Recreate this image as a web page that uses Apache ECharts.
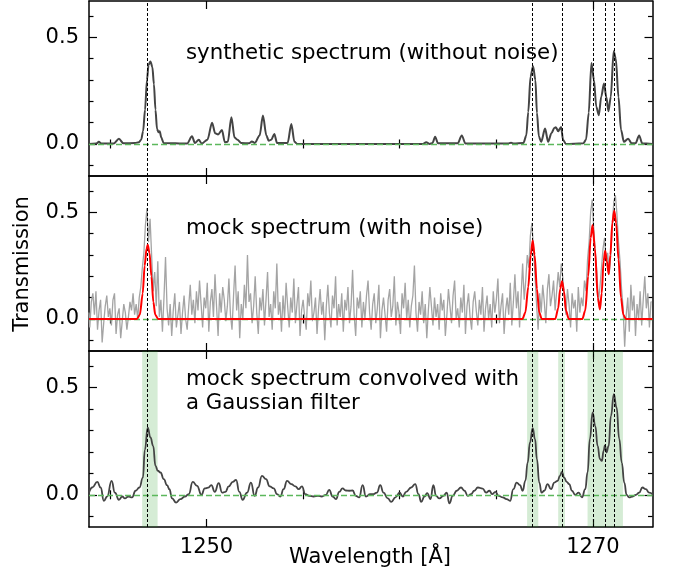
<!DOCTYPE html>
<html>
<head>
<meta charset="utf-8">
<title>Transmission spectra</title>
<script src="https://cdn.jsdelivr.net/npm/echarts@6.0.0/dist/echarts.min.js"></script>
<style>
  html, body { margin: 0; padding: 0; background: #fff; }
  #chart { width: 678px; height: 576px; }
</style>
</head>
<body>
<div id="chart"></div>
<script>
// wavelength range and ticks
const waveMin = 1243.92;
const waveMax = 1273.08;
const xMajorTicks = [1250, 1270];
const xMinorTicks = [1245, 1255, 1260, 1265];
const yMin = -0.15;
const yMax = 0.67;
const yMajorTicks = [0, 0.5];
const yMinorTicks = [-0.1, 0.1, 0.2, 0.3, 0.4, 0.6];

// absorption line centres and filter windows
const lineCenters = [1246.96, 1266.88, 1268.40, 1270.00, 1270.62, 1271.10];
const filterBands = [[1246.67, 1247.47], [1266.59, 1267.17], [1268.20, 1268.55], [1269.72, 1271.55]];

// top panel: synthetic spectrum (without noise)
const synthWave = [
  1243.92, 1244.30, 1244.43, 1244.56, 1245.20, 1245.47, 1245.70, 1246.30, 1246.50, 1246.62,
  1246.72, 1246.82, 1246.92, 1247.00, 1247.10, 1247.20, 1247.28, 1247.36, 1247.44, 1247.52,
  1247.58, 1247.66, 1247.78, 1249.00, 1249.25, 1249.40, 1249.60, 1249.75, 1250.05, 1250.29,
  1250.45, 1250.60, 1250.80, 1250.95, 1251.10, 1251.29, 1251.45, 1251.60, 1251.80, 1252.20,
  1252.35, 1252.50, 1252.75, 1252.92, 1253.10, 1253.22, 1253.35, 1253.51, 1253.65, 1254.20,
  1254.39, 1254.55, 1254.70, 1261.20, 1261.37, 1261.55, 1261.70, 1261.83, 1261.98, 1263.00,
  1263.21, 1263.40, 1265.60, 1265.76, 1265.90, 1266.40, 1266.55, 1266.65, 1266.77, 1266.90,
  1267.02, 1267.10, 1267.20, 1267.32, 1267.52, 1267.68, 1267.85, 1268.00, 1268.08, 1268.20,
  1268.35, 1268.45, 1268.60, 1269.50, 1269.64, 1269.78, 1269.92, 1270.05, 1270.17, 1270.30,
  1270.43, 1270.57, 1270.69, 1270.80, 1270.92, 1271.07, 1271.18, 1271.32, 1271.45, 1271.60,
  1271.82, 1272.00, 1272.20, 1272.39, 1272.55, 1273.08
];
const synthFlux = [
  0.000, 0.002, 0.010, 0.002, 0.002, 0.024, 0.003, 0.005, 0.008, 0.020,
  0.060, 0.160, 0.300, 0.370, 0.387, 0.360, 0.280, 0.160, 0.070, 0.055,
  0.060, 0.030, 0.005, 0.002, 0.036, 0.005, 0.020, 0.002, 0.020, 0.100,
  0.050, 0.045, 0.065, 0.008, 0.010, 0.125, 0.030, 0.020, 0.005, 0.003,
  0.012, 0.005, 0.040, 0.133, 0.040, 0.015, 0.020, 0.047, 0.005, 0.005,
  0.094, 0.010, 0.000, 0.000, 0.008, 0.000, 0.005, 0.034, 0.003, 0.003,
  0.040, 0.002, 0.002, 0.006, 0.002, 0.005, 0.040, 0.150, 0.317, 0.364,
  0.300, 0.146, 0.035, 0.010, 0.072, 0.010, 0.050, 0.075, 0.078, 0.060,
  0.080, 0.020, 0.000, 0.003, 0.020, 0.146, 0.380, 0.300, 0.175, 0.135,
  0.223, 0.283, 0.220, 0.153, 0.220, 0.434, 0.400, 0.220, 0.067, 0.010,
  0.025, 0.003, 0.003, 0.040, 0.003, 0.000
];

// middle panel: mock spectrum (with noise), sampled every 0.08 A
const noiseStart = 1243.92;
const noiseStep = 0.08;
const noiseFlux = [
  0.03, -0.04, 0.08, 0.12, 0.02, 0.13, -0.05, 0.04, 0.09, -0.11, -0.02, 0.06, 0.11, 0.01, 0.05,
  -0.03, 0.09, 0.12, -0.07, 0.02, 0.05, -0.09, -0.01, 0.07, 0.03, -0.05, 0.01, 0.08, 0.04, 0.12,
  0.02, 0.07, 0.00, 0.10, 0.15, 0.24, 0.31, 0.44, 0.52, 0.36, 0.47, 0.30, 0.13, 0.22, 0.06,
  0.27, 0.01, 0.09, -0.06, 0.10, 0.29, 0.05, -0.03, 0.07, -0.08, 0.04, 0.12, -0.04, 0.02, 0.08,
  -0.07, 0.03, 0.11, 0.00, -0.05, 0.06, 0.16, 0.02, 0.09, -0.02, 0.13, 0.04, 0.18, 0.07, -0.04,
  0.10, 0.05, 0.17, -0.06, 0.08, 0.14, 0.01, 0.21, 0.06, -0.08, 0.12, 0.03, 0.15, 0.09, -0.01,
  0.06, 0.19, 0.02, -0.05, 0.11, 0.25, 0.04, 0.13, -0.09, 0.07, 0.00, 0.16, 0.05, 0.30, 0.08,
  0.12, -0.02, 0.06, 0.20, 0.03, -0.07, 0.10, 0.04, 0.14, -0.03, 0.09, 0.22, 0.01, 0.07, -0.05,
  0.13, 0.05, 0.26, 0.02, 0.08, -0.06, 0.11, 0.00, 0.17, 0.06, -0.04, 0.10, 0.03, 0.19, -0.02,
  0.07, 0.15, -0.08, 0.04, 0.09, 0.01, -0.05, 0.12, 0.06, 0.18, -0.01, 0.03, 0.10, -0.07, 0.05,
  0.14, 0.02, 0.08, -0.10, 0.06, 0.16, 0.03, -0.04, 0.11, 0.05, 0.20, -0.03, 0.07, 0.01, 0.12,
  -0.06, 0.09, 0.04, 0.15, -0.02, 0.06, 0.23, 0.02, -0.08, 0.10, 0.05, 0.13, -0.04, 0.08, 0.00,
  0.11, 0.18, 0.03, -0.05, 0.07, 0.12, -0.02, 0.05, 0.16, -0.09, 0.04, 0.10, 0.02, -0.06, 0.09,
  0.14, 0.01, 0.06, 0.20, -0.03, 0.08, 0.03, -0.07, 0.12, 0.05, 0.17, 0.00, 0.09, -0.04, 0.06,
  0.11, 0.25, 0.03, -0.06, 0.08, 0.02, 0.13, -0.02, 0.07, -0.09, 0.04, 0.15, 0.06, -0.03, 0.10,
  0.01, 0.07, -0.05, 0.12, 0.04, 0.09, -0.08, 0.02, 0.14, 0.06, -0.02, 0.11, 0.18, 0.00, 0.05,
  -0.04, 0.10, 0.03, 0.16, -0.07, 0.06, 0.12, 0.01, -0.05, 0.08, 0.13, 0.04, -0.03, 0.09, 0.02,
  0.15, -0.06, 0.05, 0.11, 0.00, 0.07, -0.04, 0.13, 0.03, 0.09, 0.19, -0.02, 0.06, 0.12, -0.07,
  0.04, 0.10, 0.02, 0.17, -0.03, 0.08, 0.21, 0.05, 0.13, -0.04, 0.11, 0.26, 0.09, 0.18, 0.30,
  0.24, 0.39, 0.45, 0.33, 0.20, 0.07, -0.05, 0.12, 0.03, 0.16, 0.08, -0.02, 0.14, 0.21, 0.06,
  0.11, 0.18, 0.04, 0.13, 0.22, 0.15, 0.26, 0.19, 0.10, 0.02, 0.14, 0.07, -0.04, 0.12, 0.05,
  0.09, -0.06, 0.15, 0.03, 0.10, 0.06, 0.18, 0.13, 0.28, 0.36, 0.50, 0.56, 0.42, 0.31, 0.22,
  0.08, 0.15, 0.24, 0.33, 0.38, 0.27, 0.31, 0.21, 0.30, 0.44, 0.55, 0.58, 0.49, 0.36, 0.27,
  0.14, 0.05, -0.13, 0.02, 0.10, -0.06, 0.16, 0.04, 0.11, -0.08, 0.07, 0.00, 0.13, -0.03, 0.09,
  0.20, 0.05, 0.12, -0.04, 0.08
];

// middle panel: model line (red)
const modelWave = [
  1243.92, 1246.40, 1246.55, 1246.70, 1246.80, 1246.90, 1246.96, 1247.05, 1247.15, 1247.25,
  1247.35, 1247.50, 1266.35, 1266.50, 1266.65, 1266.78, 1266.88, 1266.98, 1267.10, 1267.22,
  1267.35, 1268.05, 1268.20, 1268.30, 1268.40, 1268.50, 1268.60, 1268.75, 1269.45, 1269.60,
  1269.75, 1269.88, 1269.98, 1270.10, 1270.25, 1270.36, 1270.45, 1270.55, 1270.63, 1270.72,
  1270.81, 1270.90, 1271.00, 1271.10, 1271.20, 1271.32, 1271.45, 1271.57, 1271.70, 1273.08
];
const modelFlux = [
  0.000, 0.000, 0.020, 0.120, 0.250, 0.330, 0.348, 0.310, 0.200, 0.080,
  0.020, 0.000, 0.000, 0.030, 0.150, 0.300, 0.368, 0.300, 0.140, 0.030,
  0.000, 0.000, 0.050, 0.140, 0.177, 0.130, 0.040, 0.000, 0.000, 0.040,
  0.200, 0.380, 0.440, 0.330, 0.100, 0.045, 0.120, 0.270, 0.320, 0.270,
  0.210, 0.300, 0.450, 0.507, 0.450, 0.280, 0.100, 0.020, 0.000, 0.000
];

// bottom panel: mock spectrum convolved with a Gaussian filter
const convWave = [
  1243.92, 1244.09, 1244.35, 1244.52, 1244.69, 1244.86, 1245.09, 1245.26, 1245.47, 1245.64,
  1245.78, 1245.95, 1246.15, 1246.33, 1246.53, 1246.71, 1246.81, 1246.96, 1247.10, 1247.24,
  1247.36, 1247.48, 1247.62, 1247.79, 1247.96, 1248.08, 1248.22, 1248.43, 1248.65, 1248.88,
  1249.08, 1249.29, 1249.51, 1249.74, 1249.91, 1250.08, 1250.25, 1250.43, 1250.63, 1250.81,
  1250.98, 1251.15, 1251.36, 1251.53, 1251.70, 1251.87, 1252.10, 1252.30, 1252.49, 1252.67,
  1252.87, 1253.08, 1253.27, 1253.48, 1253.65, 1253.82, 1253.99, 1254.17, 1254.39, 1254.60,
  1254.77, 1254.94, 1255.11, 1255.32, 1255.54, 1255.77, 1255.97, 1256.18, 1256.35, 1256.53,
  1256.70, 1256.87, 1257.04, 1257.21, 1257.39, 1257.56, 1257.73, 1257.90, 1258.08, 1258.25,
  1258.47, 1258.61, 1258.82, 1258.99, 1259.16, 1259.38, 1259.56, 1259.78, 1259.99, 1260.16,
  1260.33, 1260.59, 1260.80, 1260.97, 1261.11, 1261.28, 1261.42, 1261.59, 1261.74, 1261.88,
  1262.05, 1262.26, 1262.43, 1262.57, 1262.74, 1262.95, 1263.17, 1263.35, 1263.52, 1263.69,
  1263.86, 1264.04, 1264.29, 1264.47, 1264.64, 1264.78, 1264.95, 1265.12, 1265.33, 1265.53,
  1265.71, 1265.88, 1266.05, 1266.22, 1266.36, 1266.50, 1266.62, 1266.74, 1266.88, 1267.00,
  1267.10, 1267.22, 1267.34, 1267.48, 1267.65, 1267.83, 1268.00, 1268.17, 1268.29, 1268.39,
  1268.51, 1268.64, 1268.77, 1268.91, 1269.08, 1269.26, 1269.43, 1269.60, 1269.72, 1269.84,
  1269.98, 1270.12, 1270.24, 1270.36, 1270.46, 1270.55, 1270.62, 1270.70, 1270.81, 1270.93,
  1271.08, 1271.22, 1271.36, 1271.49, 1271.62, 1271.74, 1271.87, 1272.05, 1272.22, 1272.39,
  1272.56, 1272.73, 1272.91, 1273.08
];
const convFlux = [
  0.010, 0.034, 0.060, 0.034, -0.028, -0.008, 0.065, 0.010, -0.023, -0.008,
  -0.017, -0.008, -0.012, 0.019, 0.034, 0.080, 0.210, 0.313, 0.267, 0.228,
  0.135, 0.112, 0.104, 0.073, 0.045, 0.026, -0.017, -0.036, -0.020, -0.008,
  0.003, 0.060, 0.042, 0.000, 0.030, 0.033, 0.045, 0.014, 0.054, 0.010,
  0.014, 0.039, 0.060, 0.070, 0.014, -0.023, 0.010, 0.057, -0.005, 0.034,
  0.088, 0.073, 0.039, 0.030, 0.003, -0.008, 0.026, 0.065, 0.050, 0.039,
  0.026, 0.039, 0.003, -0.005, -0.008, -0.005, -0.008, 0.000, 0.023, -0.008,
  -0.020, 0.014, 0.030, 0.020, 0.019, 0.020, -0.005, -0.012, 0.045, -0.008,
  0.003, 0.003, 0.010, 0.045, 0.010, -0.017, -0.033, -0.012, 0.010, -0.008,
  0.014, 0.034, 0.050, 0.003, -0.033, -0.008, 0.008, -0.020, 0.045, -0.005,
  -0.017, -0.005, 0.010, -0.040, -0.005, 0.019, 0.034, 0.019, -0.005, 0.003,
  0.019, 0.034, 0.029, 0.010, 0.019, 0.003, 0.014, -0.005, -0.012, -0.020,
  -0.028, 0.026, 0.057, 0.045, 0.019, 0.065, 0.150, 0.244, 0.310, 0.260,
  0.166, 0.057, 0.010, 0.019, 0.050, 0.026, 0.057, 0.065, 0.088, 0.107,
  0.080, 0.060, 0.050, 0.019, 0.000, 0.010, -0.012, 0.026, 0.104, 0.260,
  0.384, 0.320, 0.228, 0.166, 0.158, 0.205, 0.230, 0.197, 0.228, 0.368,
  0.469, 0.407, 0.260, 0.150, 0.057, 0.000, -0.012, -0.008, 0.000, 0.010,
  0.034, 0.026, 0.010, 0.003
];

const FONT = 'DejaVu Sans';
const BLACK = '#000';
const zip = (xs, ys) => xs.map((x, i) => [x, ys[i]]);

// grid layout (pixels)
const grids = [
  { left: 89, right: 25.5, top: 1, height: 175 },
  { left: 89, right: 25.5, top: 176, height: 175 },
  { left: 89, right: 25.5, top: 351, height: 176 }
];

function tick(values, len) {
  return { show: true, inside: true, length: len, customValues: values, lineStyle: { color: BLACK, width: 1.2 } };
}
const frameLine = { show: true, onZero: false, lineStyle: { color: BLACK, width: 1.5 } };

const xAxes = [];
const yAxes = [];
grids.forEach((g, gi) => {
  ['bottom', 'top'].forEach(pos => {
    const showLab = gi === 2 && pos === 'bottom';
    xAxes.push({
      gridIndex: gi, type: 'value', position: pos, min: waveMin, max: waveMax,
      axisLine: frameLine, axisTick: tick(xMajorTicks, 8), splitLine: { show: false },
      axisLabel: showLab ? {
        show: true, customValues: xMajorTicks, margin: 10, color: BLACK,
        fontSize: 21, fontFamily: FONT, formatter: v => String(Math.round(v))
      } : { show: false }
    });
    xAxes.push({
      gridIndex: gi, type: 'value', position: pos, min: waveMin, max: waveMax,
      axisLine: { show: false }, axisTick: tick(xMinorTicks, 4.5),
      splitLine: { show: false }, axisLabel: { show: false }
    });
  });
  ['left', 'right'].forEach(pos => {
    yAxes.push({
      gridIndex: gi, type: 'value', position: pos, min: yMin, max: yMax,
      axisLine: frameLine, axisTick: tick(yMajorTicks, 8), splitLine: { show: false },
      axisLabel: pos === 'left' ? {
        show: true, customValues: yMajorTicks, margin: 10, color: BLACK, padding: [7, 0, 0, 0],
        fontSize: 21, fontFamily: FONT, formatter: v => v.toFixed(1)
      } : { show: false }
    });
    yAxes.push({
      gridIndex: gi, type: 'value', position: pos, min: yMin, max: yMax,
      axisLine: { show: false }, axisTick: tick(yMinorTicks, 4.5),
      splitLine: { show: false }, axisLabel: { show: false }
    });
  });
});

// dashed guides shared by every panel
function guides(gi) {
  return {
    type: 'line', xAxisIndex: gi * 4, yAxisIndex: gi * 4, data: [], z: 10, silent: true,
    markLine: {
      silent: true, symbol: ['none', 'none'], label: { show: false }, animation: false,
      data: [
        { yAxis: 0, lineStyle: { color: '#5cb85c', type: [6, 3], width: 1.3 } },
        ...lineCenters.map(c => ({ xAxis: c, lineStyle: { color: BLACK, type: [3, 2], width: 1 } }))
      ]
    }
  };
}

const series = [
  guides(0), guides(1), guides(2),
  {
    type: 'line', xAxisIndex: 8, yAxisIndex: 8, data: [], z: 0, silent: true,
    markArea: {
      silent: true, itemStyle: { color: 'rgba(44,160,44,0.2)' }, label: { show: false },
      data: filterBands.map(b => [{ xAxis: b[0] }, { xAxis: b[1] }])
    }
  },
  {
    name: 'synthetic', type: 'line', xAxisIndex: 0, yAxisIndex: 0, z: 4,
    data: zip(synthWave, synthFlux), showSymbol: false, smooth: 0.3, smoothMonotone: 'x',
    lineStyle: { color: '#444', width: 2 }
  },
  {
    name: 'mock', type: 'line', xAxisIndex: 4, yAxisIndex: 4, z: 3, step: 'middle',
    data: noiseFlux.map((v, i) => [noiseStart + i * noiseStep, v]), showSymbol: false,
    lineStyle: { color: '#a4a4a4', width: 1.3 }
  },
  {
    name: 'model', type: 'line', xAxisIndex: 4, yAxisIndex: 4, z: 5,
    data: zip(modelWave, modelFlux), showSymbol: false, smooth: 0.3, smoothMonotone: 'x',
    lineStyle: { color: '#ff0000', width: 2 }
  },
  {
    name: 'convolved', type: 'line', xAxisIndex: 8, yAxisIndex: 8, z: 4,
    data: zip(convWave, convFlux), showSymbol: false, smooth: 0.5, smoothMonotone: 'x',
    lineStyle: { color: '#444', width: 1.8 }
  }
];

function label(text, x, y, extra) {
  return Object.assign({
    type: 'text', x: x, y: y, silent: true,
    style: { text: text, font: '21.3px "' + FONT + '"', fill: BLACK, textAlign: 'left', textVerticalAlign: 'middle' }
  }, extra || {});
}

const chart = echarts.init(document.getElementById('chart'), null, { renderer: 'canvas' });
chart.setOption({
  animation: false,
  backgroundColor: '#fff',
  grid: grids,
  xAxis: xAxes,
  yAxis: yAxes,
  series: series,
  graphic: [
    label('synthetic spectrum (without noise)', 186, 53),
    label('mock spectrum (with noise)', 186, 228),
    label('mock spectrum convolved with', 186, 379),
    label('a Gaussian filter', 186, 403),
    {
      type: 'text', x: 23, y: 264, rotation: Math.PI / 2, silent: true,
      style: { text: 'Transmission', font: '21px "' + FONT + '"', fill: BLACK, textAlign: 'center', textVerticalAlign: 'middle' }
    },
    {
      type: 'text', x: 370, y: 558, silent: true,
      style: { text: 'Wavelength [Å]', font: '21px "' + FONT + '"', fill: BLACK, textAlign: 'center', textVerticalAlign: 'middle' }
    }
  ]
});
</script>
</body>
</html>
